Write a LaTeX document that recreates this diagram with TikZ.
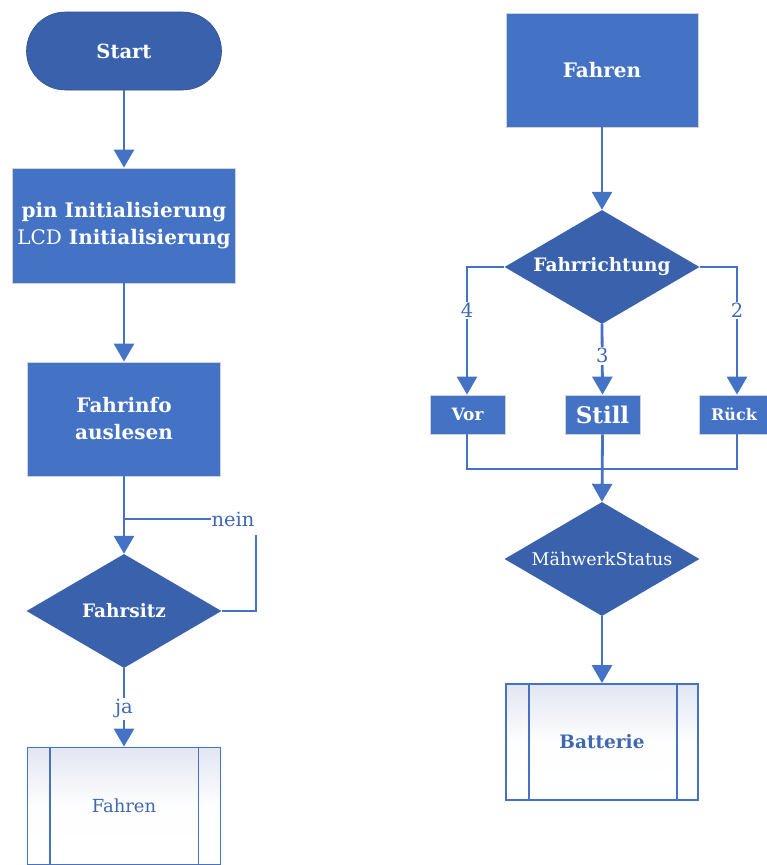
\documentclass[tikz,border=0pt]{standalone}
\usepackage{fontspec}
\setmainfont{DejaVu Serif}
\usetikzlibrary{shapes.geometric,arrows.meta}

\definecolor{boxblue}{HTML}{4472C4}
\definecolor{deepblue}{HTML}{3A62AC}
\definecolor{lineblue}{HTML}{4472C4}
\definecolor{labelblue}{HTML}{3F68B4}
\definecolor{lavender}{HTML}{E2E6F1}

\tikzset{
  flow/.style={draw=lineblue, line width=2.8pt},
  arrow/.style={flow, -{Triangle[width=20pt,length=18pt]}},
  procbox/.style={rectangle, fill=boxblue, draw=gray!35, line width=0.8pt,
    text=white, align=center, inner sep=0pt, font=\bfseries\fontsize{20}{27}\selectfont},
  smallbox/.style={procbox, minimum width=75pt, minimum height=39pt,
    font=\bfseries\fontsize{17}{18}\selectfont},
  terminal/.style={rectangle, rounded corners=39pt, fill=deepblue, draw=deepblue!80!black,
    line width=0.6pt, text=white, inner sep=0pt,
    minimum width=195pt, minimum height=78pt, font=\bfseries\fontsize{19.5}{22}\selectfont},
  decision/.style={diamond, aspect=1.7, fill=deepblue, text=white, inner sep=0pt,
    minimum width=195pt, minimum height=114pt, font=\bfseries\fontsize{18.5}{20}\selectfont},
  subproc/.style={rectangle, draw=lineblue, line width=1.8pt, top color=lavender,
    bottom color=white, middle color=white!96!lavender, text=labelblue, inner sep=0pt,
    minimum width=193pt, minimum height=117pt, font=\fontsize{18}{20}\selectfont},
  edgelabel/.style={fill=white, text=labelblue, inner sep=1.5pt,
    font=\fontsize{19.5}{20}\selectfont},
}

\begin{document}
\begin{tikzpicture}[x=1pt, y=-1pt]
  \useasboundingbox (0,0) rectangle (767,865);
  \clip (0,0) rectangle (767,865);

  % ---- left column: start-up sequence ----
  \node[terminal] (start) at (124,51) {Start};
  \node[procbox, minimum width=223pt, minimum height=115pt] (init) at (124,225.5)
    {pin Initialisierung\\{\mdseries LCD} Initialisierung};
  \node[procbox, minimum width=193pt, minimum height=114pt] (info) at (124,419)
    {Fahrinfo\\auslesen};
  \node[decision] (seat) at (124,611) {Fahrsitz};
  \node[subproc] (drive) at (124,806) {Fahren};

  \draw[arrow] (start) -- (init);
  \draw[arrow] (init) -- (info);
  \draw[arrow] (info) -- (seat);

  % "nein" loop back above the seat check
  \coordinate (loopR) at (256,611);
  \coordinate (loopT) at (256,535);
  \node[edgelabel, inner sep=0pt, anchor=base] (nein) at (233,526) {nein};
  \draw[flow] (seat.east) -- (loopR) -- (loopT);
  \draw[flow] (nein.west) -- (nein.west -| info.south);

  \draw[arrow] (seat) -- node[edgelabel, pos=0.52] {ja} (drive);

  % inner bars of the subprocess symbol
  \draw[draw=lineblue, line width=1.8pt]
    ([xshift=23pt]drive.north west) -- ([xshift=23pt]drive.south west)
    ([xshift=-23pt]drive.north east) -- ([xshift=-23pt]drive.south east);

  % ---- right column: driving ----
  \node[procbox, minimum width=192pt, minimum height=114pt] (fahren) at (602,70) {Fahren};
  \node[decision] (dir) at (602,267) {Fahrrichtung};
  \node[smallbox] (vor) at (467.5,414.5) {Vor};
  \node[smallbox, font=\bfseries\fontsize{23}{24}\selectfont] (still) at (602.5,414.5) {Still};
  \node[smallbox, minimum width=70pt, font=\bfseries\fontsize{16}{18}\selectfont] (rueck) at (734,414.5) {Rück};
  \node[decision, font=\fontsize{17.5}{18}\selectfont] (mow) at (602,559) {MähwerkStatus};
  \node[subproc, minimum width=192pt, minimum height=116pt, font=\bfseries\fontsize{18.5}{20}\selectfont] (bat) at (602,742) {Batterie};

  \draw[arrow] (fahren) -- (dir);

  \coordinate (dirL) at (467,267);
  \coordinate (dirR) at (737,267);
  \draw[arrow] (dir.west) -- (dirL) -- node[edgelabel, pos=0.34] {4} (vor.north -| dirL);
  \draw[arrow] (dir.east) -- (dirR) -- node[edgelabel, pos=0.34] {2} (rueck.north -| dirR);
  \draw[arrow] (dir.south) -- node[edgelabel, pos=0.45] {3} (still.north);

  % merging the three directions
  \coordinate (mergeL) at (467,469);
  \coordinate (mergeR) at (737,469);
  \draw[flow] (vor.south -| mergeL) -- (mergeL) -- (mergeR) -- (rueck.south -| mergeR);
  \draw[arrow] (still.south) -- (mow.north);

  \draw[arrow] (mow) -- (bat);

  \draw[draw=lineblue, line width=1.8pt]
    ([xshift=24pt]bat.north west) -- ([xshift=24pt]bat.south west)
    ([xshift=-22pt]bat.north east) -- ([xshift=-22pt]bat.south east);
\end{tikzpicture}
\end{document}
